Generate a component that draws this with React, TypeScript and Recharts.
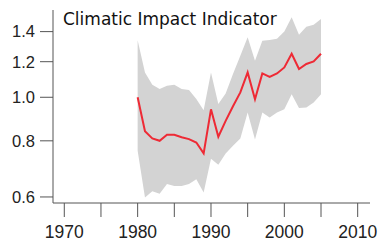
import React from 'react';
import { ComposedChart, Area, Line, XAxis, YAxis } from 'recharts';

// values
const YEARS = [1980, 1981, 1982, 1983, 1984, 1985, 1986, 1987, 1988, 1989, 1990, 1991, 1992,
    1993, 1994, 1995, 1996, 1997, 1998, 1999, 2000, 2001, 2002, 2003, 2004, 2005];
const INDEX = [1.0, 0.84, 0.81, 0.8, 0.825, 0.825, 0.815, 0.807, 0.793, 0.75, 0.94, 0.817, 0.886,
    0.955, 1.025, 1.136, 0.99, 1.13, 1.11, 1.13, 1.165, 1.25, 1.156, 1.186, 1.202, 1.25];
const BAND_HIGH = [1.34, 1.136, 1.066, 1.043, 1.061, 1.066, 1.043, 1.038, 0.991, 0.936, 1.136, 0.966, 1.02,
    1.126, 1.237, 1.36, 1.206, 1.336, 1.341, 1.35, 1.4, 1.506, 1.378, 1.436, 1.45, 1.493];
const BAND_LOW = [0.76, 0.598, 0.618, 0.61, 0.641, 0.635, 0.635, 0.641, 0.657, 0.614, 0.73, 0.708, 0.75,
    0.78, 0.81, 0.925, 0.805, 0.925, 0.902, 0.925, 0.941, 1.016, 0.946, 0.949, 0.974, 1.016];
const X_TICKS = [1970, 1975, 1980, 1985, 1990, 1995, 2000, 2005, 2010];
const Y_TICKS = [0.6, 0.8, 1.0, 1.2, 1.4];
const TITLE = 'Climatic Impact Indicator';

const data = YEARS.map((year, i) => ({
    year,
    index: INDEX[i],
    band: [BAND_LOW[i], BAND_HIGH[i]],
}));

const AXIS = '#555555';

const App = () => {
    return (
        <div style={{ position: 'absolute', left: 0, top: 0, width: 379, height: 242, background: '#fff' }}>
            <ComposedChart width={379} height={242} data={data} margin={{ top: 10, right: 9, bottom: 0, left: 0 }}>
                <XAxis
                    dataKey="year"
                    type="number"
                    domain={[1968.46, 2011.68]}
                    allowDataOverflow
                    ticks={X_TICKS}
                    tickFormatter={(v: number) => (v % 10 === 0 ? String(v) : '')}
                    height={39}
                    tickSize={14}
                    tickMargin={9}
                    stroke={AXIS}
                    tick={{ fill: '#222', fontSize: 17.5, fontFamily: 'Liberation Sans, Arial, sans-serif' }}
                />
                <YAxis
                    type="number"
                    scale="log"
                    domain={[0.5817, 1.564]}
                    allowDataOverflow
                    ticks={Y_TICKS}
                    tickFormatter={(v: number) => v.toFixed(1)}
                    width={53}
                    tickSize={13}
                    tickMargin={5}
                    stroke={AXIS}
                    tick={{ fill: '#222', fontSize: 16.5, fontFamily: 'Liberation Sans, Arial, sans-serif' }}
                />
                <Area
                    dataKey="band"
                    type="linear"
                    fill="#d3d3d3"
                    fillOpacity={1}
                    stroke="none"
                    isAnimationActive={false}
                />
                <Line
                    dataKey="index"
                    type="linear"
                    stroke="#ee2a35"
                    strokeWidth={2}
                    dot={false}
                    isAnimationActive={false}
                />
            </ComposedChart>
            <svg width={379} height={242} style={{ position: 'absolute', left: 0, top: 0, pointerEvents: 'none' }}>
                <text x={63} y={25} fontSize={17} fontFamily="DejaVu Sans, sans-serif" fill="#111">{TITLE}</text>
            </svg>
        </div>
    );
};

export default App;
